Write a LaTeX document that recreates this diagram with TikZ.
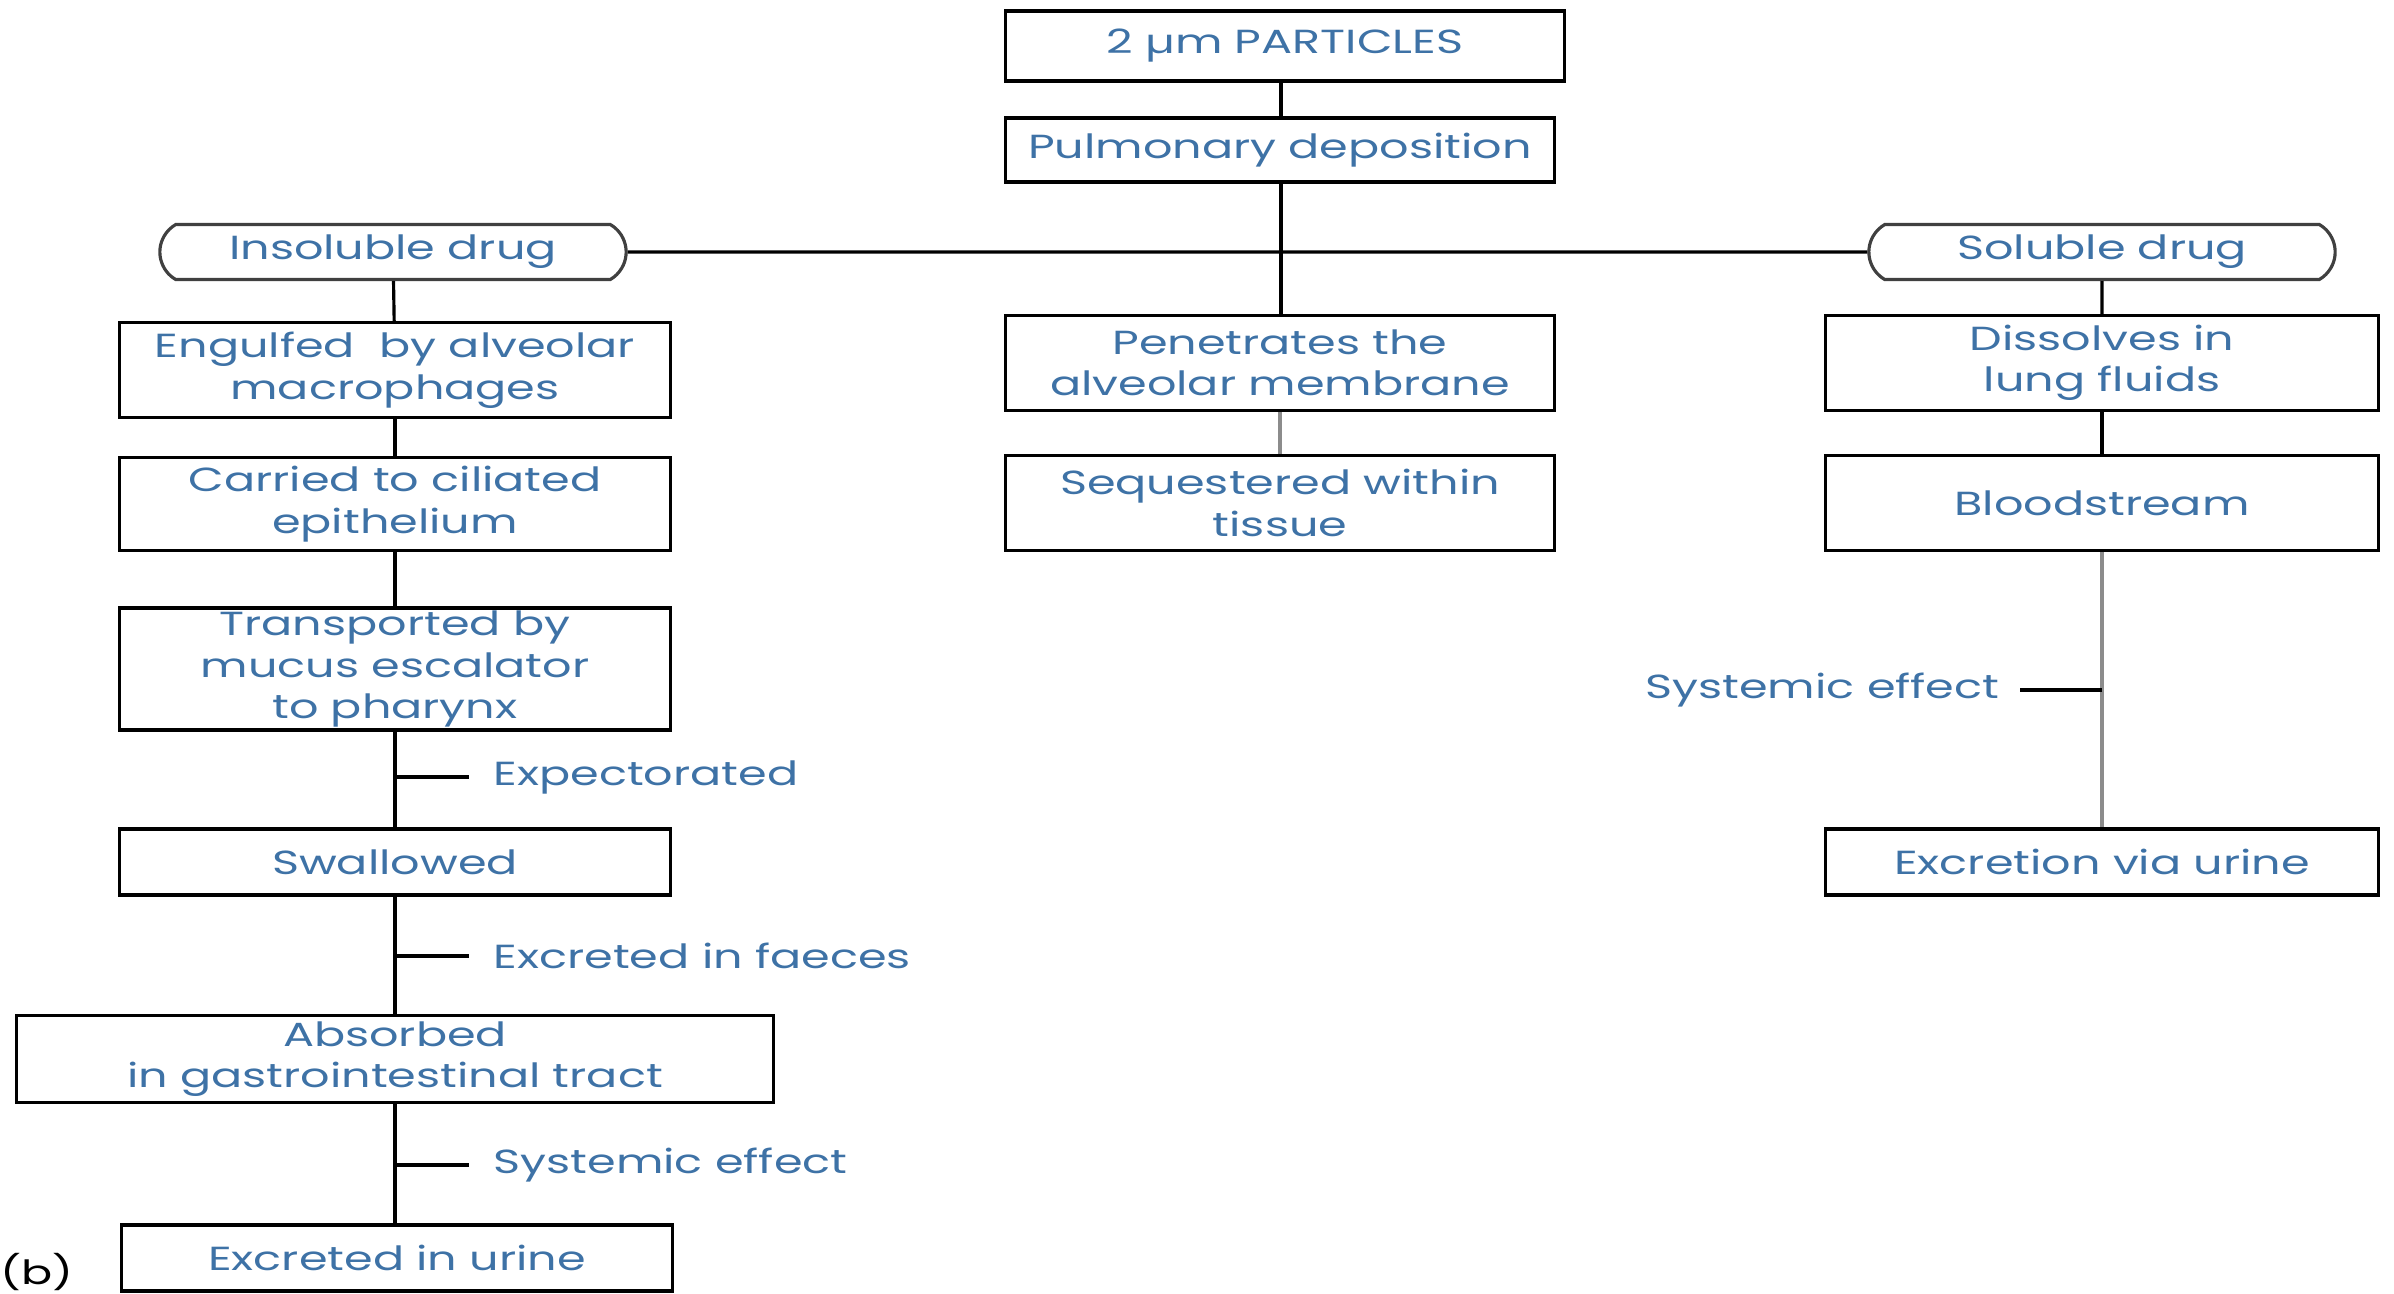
\documentclass[tikz,border=0pt]{standalone}
\usepackage{fontspec}
\setmainfont{Poppins}
\newfontfamily\flowfont[FakeStretch=1.38]{Poppins}
\usetikzlibrary{shapes.misc}

\definecolor{txtblue}{RGB}{62,114,166}

\tikzset{
  box/.style={draw, line width=0.9pt, align=center, inner sep=0pt,
    text=txtblue, font=\flowfont\fontsize{9.5}{11.8}\selectfont,
    minimum width=5.5cm, minimum height=0.95cm},
  capsule/.style={box, draw=black!75, rounded rectangle,
    rounded rectangle arc length=120, minimum width=4.66cm, minimum height=0.55cm},
  sidelabel/.style={text=txtblue, font=\flowfont\fontsize{9.5}{11.8}\selectfont, inner sep=0pt},
  link/.style={line width=0.9pt},
  greylink/.style={link, draw=black!45}
}

\begin{document}
\begin{tikzpicture}[x=0.01cm,y=-0.01cm]
\useasboundingbox (0,0) rectangle (2394,1293);

% top of the chart
\node[box, minimum width=5.59cm, minimum height=0.7cm] (parts) at (1285,46) {2 µm PARTICLES};
\node[box, minimum width=5.48cm, minimum height=0.64cm] (pulm) at (1280,150) {Pulmonary deposition};
\node[capsule] (insol) at (393,252) {Insoluble drug};
\node[capsule] (sol) at (2102,252) {Soluble drug};
\coordinate (fork) at (1281,252);

% insoluble branch
\node[box] (engulf) at (395,370) {Engulfed\ \ by alveolar\\macrophages};
\node[box, minimum height=0.93cm] (carried) at (395,504) {Carried to ciliated\\epithelium};
\node[box, minimum height=1.22cm] (transp) at (395,669) {Transported by\\mucus escalator\\to pharynx};
\node[box, minimum height=0.66cm] (swall) at (395,862) {Swallowed};
\node[box, minimum width=7.56cm, minimum height=0.87cm] (absorb) at (395,1059) {Absorbed\\in gastrointestinal tract};
\node[box, minimum height=0.66cm] (exurine) at (397,1258) {Excreted in urine};

% middle branch
\node[box, minimum width=5.48cm] (penet) at (1280,363) {Penetrates the\\alveolar membrane};
\node[box, minimum width=5.48cm] (seq) at (1280,503) {Sequestered within\\tissue};

% soluble branch
\node[box, minimum width=5.53cm] (dissol) at (2102,363) {Dissolves in\\lung fluids};
\node[box, minimum width=5.53cm] (blood) at (2102,503) {Bloodstream};
\node[box, minimum width=5.53cm, minimum height=0.66cm] (exvia) at (2102,862) {Excretion via urine};

% side exits
\coordinate (t1) at (394,777);
\coordinate (t2) at (394,956);
\coordinate (t3) at (394,1165);
\coordinate (t4) at (2102,690);
\node[sidelabel, anchor=west] (expect) at (493,777) {Expectorated};
\node[sidelabel, anchor=west] (faeces) at (493,956) {Excreted in faeces};
\node[sidelabel, anchor=west] (sys1) at (493,1165) {Systemic effect};
\node[sidelabel, anchor=east] (sys2) at (2000,690) {Systemic effect};
\node[font=\flowfont\fontsize{9.5}{12}\selectfont, inner sep=0pt] (tag) at (37,1272) {(b)};

\draw[link] (pulm.north -| fork) -- (parts.south -| fork);
\draw[link] (pulm.south -| fork) -- (fork) -- (penet.north -| fork);
\draw[link] (insol) -- (sol);
\draw[greylink] (penet) -- (seq);

\draw[link] (insol) -- (engulf);
\draw[link] (engulf) -- (carried);
\draw[link] (carried) -- (transp);
\draw[link] (transp) -- (swall);
\draw[link] (swall) -- (absorb);
\draw[link] (absorb.south) -- (absorb.south |- exurine.north);
\draw[link] (t1) -- ++(75,0);
\draw[link] (t2) -- ++(75,0);
\draw[link] (t3) -- ++(75,0);

\draw[link] (sol) -- (dissol);
\draw[link] (dissol) -- (blood);
\draw[greylink] (blood) -- (exvia);
\draw[link] (t4) -- ++(-82,0);
\end{tikzpicture}
\end{document}
